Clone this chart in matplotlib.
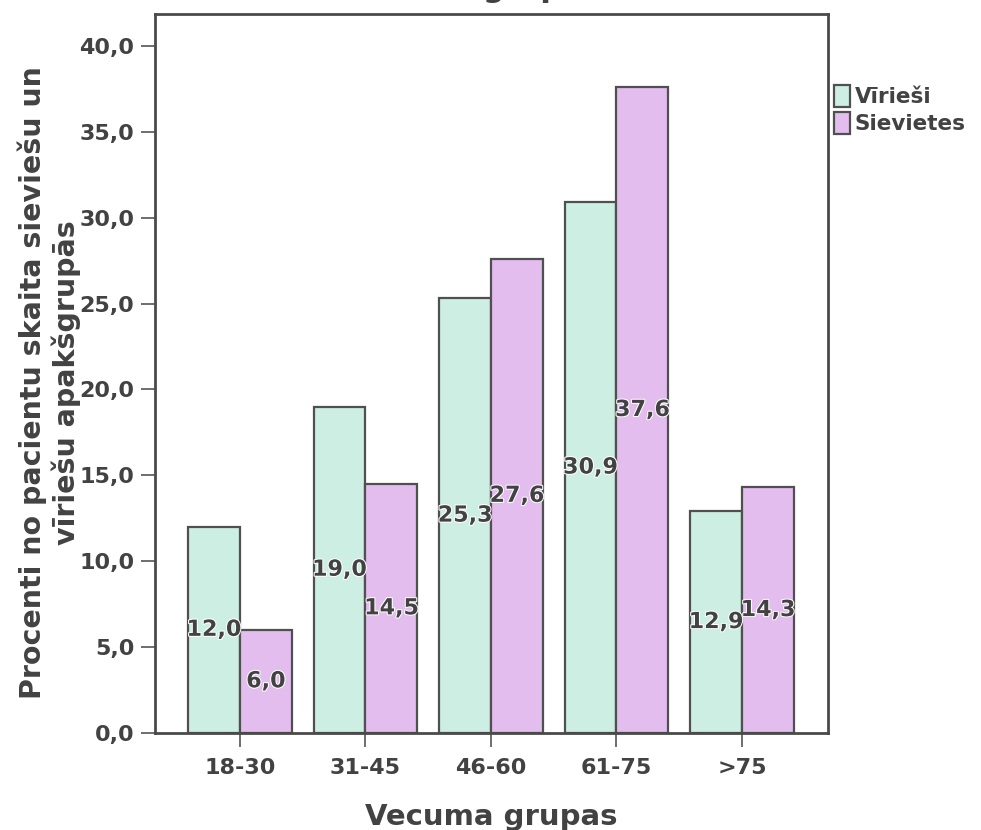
import matplotlib
matplotlib.use("Agg")
import matplotlib.pyplot as plt
import matplotlib.patheffects as pe
import numpy as np

# procenti pa vecuma grupām
groups = ["18-30", "31-45", "46-60", "61-75", ">75"]
men = [12.0, 19.0, 25.3, 30.9, 12.9]
women = [6.0, 14.5, 27.6, 37.6, 14.3]
series_names = ["Vīrieši", "Sievietes"]

ink = "#424242"
col_men = "#cdeee2"
col_women = "#e2bdee"


def fmt(v):
    return f"{v:.1f}".replace(".", ",")


fig = plt.figure(figsize=(9.81, 8.30), dpi=100)
ax = fig.add_axes([0.158, 0.117, 0.686, 0.866])

x = np.arange(len(groups))
w = 0.414
b1 = ax.bar(x - w / 2, men, w, color=col_men, edgecolor="#505050", linewidth=1.6, label=series_names[0])
b2 = ax.bar(x + w / 2, women, w, color=col_women, edgecolor="#505050", linewidth=1.6, label=series_names[1])

for bars, vals in ((b1, men), (b2, women)):
    for r, v in zip(bars, vals):
        ax.text(r.get_x() + r.get_width() / 2, v / 2, fmt(v), ha="center", va="center",
                fontsize=16, fontweight="heavy", color=ink,
                path_effects=[pe.withStroke(linewidth=1.5, foreground="white")])

ax.set_xlim(-0.677, 4.685)
ax.set_ylim(0, 41.85)
ax.set_xticks(x)
ax.set_xticklabels(groups, fontsize=16, fontweight="bold", color=ink)
yt = np.arange(0, 41, 5)
ax.set_yticks(yt)
ax.set_yticklabels([fmt(v) for v in yt], fontsize=16, fontweight="bold", color=ink)
ax.tick_params(axis="both", direction="out", length=10, width=1.2, color="#555555", pad=5)
ax.tick_params(axis="x", pad=8)
for s in ax.spines.values():
    s.set_linewidth(2)
    s.set_color("#4a4a4a")

ax.set_xlabel("Vecuma grupas", fontsize=21, fontweight="bold", color=ink, labelpad=18)
ax.set_ylabel("Procenti no pacientu skaita sieviešu un\nvīriešu apakšgrupās", fontsize=20.5,
              fontweight="bold", color=ink, linespacing=1.2)
ax.yaxis.set_label_coords(-0.11, 0.487)

leg = ax.legend(loc="upper left", bbox_to_anchor=(0.99, 0.92), frameon=False,
                handlelength=0.75, handleheight=1.25, handletextpad=0.2, borderaxespad=0.2,
                labelspacing=0.2, prop={"weight": "bold", "size": 15.5})
for t in leg.get_texts():
    t.set_color(ink)

# virsraksta apakšējā rinda
fig.text(0.553, 0.996, "Pacientu sadalījums pa dzimumiem un vecuma\ngrupās", ha="center", va="bottom",
         fontsize=22, fontweight="bold", color=ink)

fig.savefig("out.png", dpi=100)
